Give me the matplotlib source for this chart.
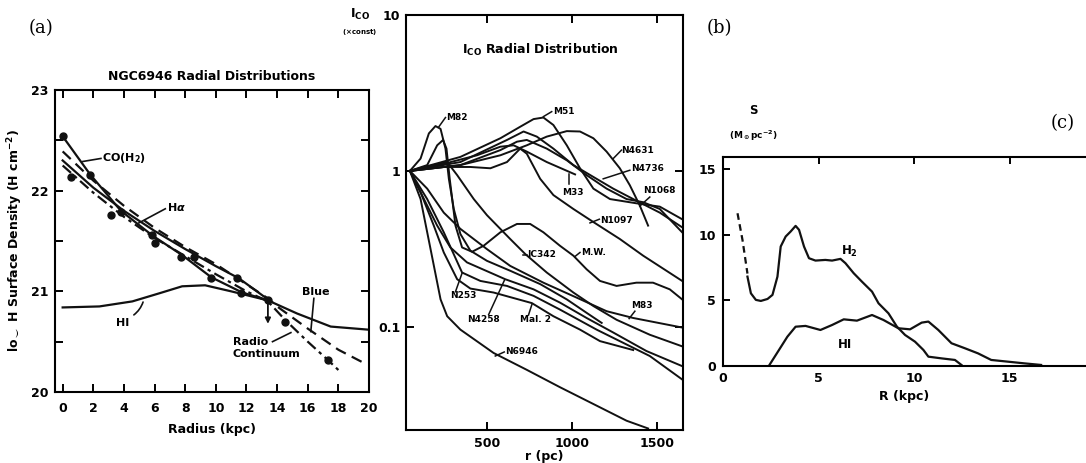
import matplotlib
matplotlib.use('Agg')
import matplotlib.pyplot as plt
from matplotlib.ticker import MultipleLocator, FixedLocator, NullLocator

plt.rcParams['font.family'] = ['DejaVu Sans']
plt.rcParams['font.weight'] = 'bold'

# ---- panel (a): NGC6946 radial distributions (log surface density vs radius, kpc)
co_r = [0, 1.8, 3.8, 5.9, 7.8, 9.7, 11.7, 13.4]
co_v = [22.54, 22.16, 21.80, 21.55, 21.36, 21.14, 20.99, 20.91]
ha_r = [0, 2, 4, 6, 8, 10, 11.5, 13.4]
ha_v = [22.30, 22.03, 21.80, 21.60, 21.42, 21.25, 21.13, 20.92]
blue_r = [0, 2, 4, 6, 8, 10, 12, 13.4, 14, 16, 18, 19.9]
blue_v = [22.39, 22.10, 21.85, 21.63, 21.44, 21.27, 21.07, 20.93, 20.85, 20.63, 20.42, 20.27]
radio_r = [0, 2, 4, 6, 8, 10, 12, 13.4, 14.5, 16, 17.3, 18.2]
radio_v = [22.25, 21.98, 21.74, 21.53, 21.35, 21.17, 21.00, 20.90, 20.72, 20.50, 20.32, 20.19]
hi_r = [0, 2.4, 4.55, 6.3, 7.8, 9.3, 11.0, 13.4, 15.3, 17.5, 19.9]
hi_v = [20.84, 20.85, 20.90, 20.98, 21.05, 21.06, 21.00, 20.91, 20.78, 20.65, 20.62]
pts_r = [0, 0.56, 1.8, 3.15, 3.8, 5.85, 6.0, 7.75, 8.6, 9.7, 11.35, 11.65, 13.4, 14.5, 17.3]
pts_v = [22.54, 22.14, 22.16, 21.76, 21.79, 21.56, 21.48, 21.34, 21.34, 21.13, 21.13, 20.98,
         20.91, 20.70, 20.32]

# ---- panel (b): I_CO radial distribution (r in pc)
icoR = {
    'M51': [43, 341, 577, 694, 773, 831, 890, 969, 1047, 1126, 1224, 1380, 1518, 1650],
    'N4631': [43, 341, 577, 733, 851, 969, 1047, 1126, 1204, 1282, 1341, 1400, 1449],
    'N4736': [43, 341, 616, 714, 792, 890, 1008, 1126, 1243, 1361, 1518, 1650],
    'N1068': [43, 341, 577, 675, 733, 851, 969, 1086, 1204, 1322, 1420, 1518, 1650],
    'M33': [43, 243, 439, 577, 655, 733, 851, 1018],
    'N1097': [43, 243, 400, 518, 616, 694, 733, 812, 890, 1008, 1126, 1282, 1420, 1650],
    'M82': [43, 106, 155, 194, 224, 253, 273, 302, 341, 400, 498, 635, 812, 969, 1086, 1175],
    'M.W.': [43, 145, 204, 239, 259, 278, 312, 351, 410, 478, 577, 675, 753, 831, 929, 1008,
             1086, 1165, 1263, 1380, 1478, 1577, 1650],
    'IC342': [43, 184, 263, 322, 420, 498, 635, 724, 851, 1008, 1126, 1263, 1459, 1650],
    'M83': [43, 145, 243, 341, 498, 635, 831, 1027, 1204, 1361, 1650],
    'N4258': [43, 126, 204, 282, 380, 537, 606, 773, 929, 1086, 1243, 1439, 1650],
    'N253': [43, 145, 243, 351, 459, 616, 773, 929, 1145, 1459, 1650],
    'Mal. 2': [43, 106, 184, 243, 322, 400, 537, 763, 890, 1047, 1165, 1361],
    'N6946': [43, 106, 165, 224, 263, 341, 537, 733, 929, 1126, 1322, 1449],
}
icoV = {
    'M51': [1.0, 1.23, 1.62, 1.92, 2.15, 2.20, 1.97, 1.46, 1.04, 0.77, 0.66, 0.62, 0.59, 0.49],
    'N4631': [1.0, 1.09, 1.26, 1.46, 1.66, 1.80, 1.79, 1.62, 1.33, 1.04, 0.81, 0.60, 0.446],
    'N4736': [1.0, 1.14, 1.58, 1.79, 1.66, 1.39, 1.09, 0.915, 0.77, 0.66, 0.54, 0.435],
    'N1068': [1.0, 1.09, 1.36, 1.54, 1.58, 1.39, 1.17, 0.94, 0.77, 0.66, 0.63, 0.57, 0.404],
    'M33': [1.0, 1.11, 1.26, 1.43, 1.46, 1.33, 1.14, 0.95],
    'N1097': [1.0, 1.06, 1.06, 1.04, 1.14, 1.39, 1.29, 0.89, 0.70, 0.57, 0.47, 0.366, 0.286,
              0.197],
    'M82': [1.0, 1.20, 1.74, 1.94, 1.86, 1.39, 0.89, 0.57, 0.394, 0.308, 0.265, 0.229, 0.188,
            0.150, 0.123, 0.106],
    'M.W.': [1.0, 1.09, 1.46, 1.58, 1.39, 0.89, 0.446, 0.323, 0.303, 0.331, 0.404, 0.457, 0.457,
             0.404, 0.331, 0.286, 0.234, 0.197, 0.183, 0.192, 0.192, 0.174, 0.150],
    'IC342': [1.0, 1.09, 1.14, 0.94, 0.66, 0.52, 0.366, 0.293, 0.223, 0.166, 0.136, 0.111, 0.089,
              0.075],
    'M83': [1.0, 0.77, 0.54, 0.425, 0.315, 0.246, 0.192, 0.154, 0.126, 0.114, 0.099],
    'N4258': [1.0, 0.66, 0.446, 0.323, 0.259, 0.218, 0.202, 0.174, 0.143, 0.114, 0.092, 0.070,
              0.056],
    'N253': [1.0, 0.66, 0.404, 0.223, 0.197, 0.183, 0.158, 0.129, 0.096, 0.065, 0.046],
    'Mal. 2': [1.0, 0.73, 0.446, 0.30, 0.202, 0.176, 0.166, 0.142, 0.117, 0.096, 0.081, 0.071],
    'N6946': [1.0, 0.66, 0.315, 0.150, 0.117, 0.096, 0.068, 0.053, 0.041, 0.032, 0.025, 0.0223],
}

# ---- panel (c): surface density S (Msun pc^-2) vs R (kpc)
h2d_r = [0.76, 1.02, 1.28]
h2d_v = [11.62, 9.59, 7.03]
h2_r = [1.28, 1.46, 1.72, 1.98, 2.33, 2.59, 2.85, 3.02, 3.28, 3.54, 3.80, 3.98, 4.24, 4.50,
        4.84, 5.36, 5.71, 6.15, 6.41, 6.84, 7.27, 7.80, 8.14, 8.66, 9.10, 9.53, 10.05, 10.49,
        10.75, 11.44, 12.14, 12.48]
h2_v = [6.80, 5.53, 5.03, 4.95, 5.10, 5.41, 6.80, 9.09, 9.85, 10.23, 10.66, 10.36, 9.09, 8.20,
        8.02, 8.07, 8.02, 8.15, 7.82, 7.06, 6.42, 5.66, 4.77, 4.01, 3.00, 2.36, 1.85, 1.22,
        0.71, 0.58, 0.46, 0.08]
hic_r = [2.41, 2.93, 3.37, 3.80, 4.32, 5.10, 5.71, 6.32, 7.01, 7.80, 8.40, 9.18, 9.79, 10.40,
         10.75, 11.27, 11.96, 12.66, 13.35, 14.04, 14.91, 15.78, 16.65]
hic_v = [0.03, 1.22, 2.23, 2.99, 3.05, 2.74, 3.12, 3.55, 3.45, 3.88, 3.50, 2.87, 2.79, 3.30,
         3.38, 2.74, 1.73, 1.35, 0.96, 0.46, 0.33, 0.20, 0.08]

K = '#111111'
LW = 1.6
W, H = 1086, 463


def box(l, t, r, b):
    return [l / W, 1 - b / H, (r - l) / W, (b - t) / H]


fig = plt.figure(figsize=(10.86, 4.63), dpi=100)

# ================= (a)
axa = fig.add_axes(box(55, 90, 369, 392))
axa.plot(co_r, co_v, color=K, lw=LW)
axa.plot(ha_r, ha_v, color=K, lw=LW)
axa.plot(blue_r, blue_v, color=K, lw=LW, ls=(0, (5, 3)))
axa.plot(radio_r, radio_v, color=K, lw=LW, ls=(0, (5, 2, 1.5, 2)))
axa.plot(hi_r, hi_v, color=K, lw=LW)
axa.plot(pts_r, pts_v, 'o', color=K, ms=5)
axa.annotate('', xy=(13.4, 20.65), xytext=(13.4, 20.9),
             arrowprops=dict(arrowstyle='-|>', color=K, lw=1.3, mutation_scale=8))
axa.set_xlim(-0.5, 20.0)
axa.set_ylim(20, 23)
axa.xaxis.set_major_locator(MultipleLocator(2))
axa.yaxis.set_major_locator(MultipleLocator(1))
axa.yaxis.set_minor_locator(MultipleLocator(0.5))
axa.tick_params(which='both', direction='in', top=True, right=True, labelsize=9, width=1.4,
                length=6)
axa.tick_params(axis='x', pad=7)
axa.tick_params(axis='y', pad=5)
for s in axa.spines.values():
    s.set_linewidth(1.5)
axa.set_title('NGC6946 Radial Distributions', fontsize=9, fontweight='bold', pad=7)
axa.set_xlabel('Radius (kpc)', fontsize=9, fontweight='bold', labelpad=6)
axa.set_ylabel(r'lo$_{\mathbf{\smile}}$ H Surface Density (H cm$^{-2}$)', fontsize=9,
               fontweight='bold', labelpad=4)
axa.text(2.6, 22.32, r'CO(H$_2$)', fontsize=8, va='center')
axa.plot([1.32, 2.5], [22.29, 22.32], color=K, lw=1.2)
axa.text(6.8, 21.84, r'H$\alpha$', fontsize=8, va='center')
axa.plot([4.98, 6.7], [21.68, 21.82], color=K, lw=1.2)
axa.text(3.5, 20.69, 'HI', fontsize=8, va='center')
axa.annotate('', xy=(5.3, 20.92), xytext=(4.5, 20.75),
             arrowprops=dict(arrowstyle='-', color=K, lw=1.2, connectionstyle='arc3,rad=0.2'))
axa.text(16.55, 20.99, 'Blue', fontsize=8, ha='center', va='center')
axa.plot([16.4, 16.2], [20.93, 20.60], color=K, lw=1.2)
axa.text(11.1, 20.44, 'Radio\nContinuum', fontsize=8, va='center', linespacing=1.2)
axa.plot([13.7, 14.9], [20.50, 20.59], color=K, lw=1.2)

# ================= (b)
axb = fig.add_axes(box(406, 15, 683, 430))
for name in icoR:
    axb.plot(icoR[name], icoV[name], color=K, lw=1.4)
axb.set_yscale('log')
axb.set_xlim(20, 1655)
axb.set_ylim(0.0218, 10)
axb.xaxis.set_major_locator(FixedLocator([500, 1000, 1500]))
axb.yaxis.set_major_locator(FixedLocator([0.1, 1, 10]))
axb.yaxis.set_minor_locator(NullLocator())
axb.yaxis.set_major_formatter(plt.FixedFormatter(['0.1', '1', '10']))
axb.tick_params(axis='x', direction='in', top=True, length=6, width=1.4, labelsize=9, pad=5)
axb.tick_params(axis='y', direction='in', right=True, length=6, width=1.4, labelsize=9, pad=4)
for s in axb.spines.values():
    s.set_linewidth(1.5)
axb.set_xlabel('r (pc)', fontsize=9, fontweight='bold', labelpad=0)
axb.text(0.486, 0.916, r'I$_{\mathbf{CO}}$ Radial Distribution', transform=axb.transAxes,
         fontsize=9, ha='center', va='center')
labs = [
    ('M82', 259, 2.20, (214, 1.92), (253, 2.20)),
    ('M51', 886, 2.40, (831, 2.23), (880, 2.40)),
    ('N4631', 1292, 1.36, (1243, 1.20), (1292, 1.36)),
    ('N4736', 1351, 1.035, (1184, 0.89), (1341, 1.01)),
    ('M33', 939, 0.73, (984, 0.95), (984, 0.82)),
    ('N1068', 1420, 0.75, (1459, 0.68), (1400, 0.595)),
    ('N1097', 1165, 0.48, (1106, 0.464), (1161, 0.49)),
    ('IC342', 733, 0.289, (712, 0.289), (733, 0.289)),
    ('M.W.', 1051, 0.30, (1018, 0.283), (1047, 0.30)),
    ('N253', 282, 0.158, (312, 0.168), (351, 0.221)),
    ('N4258', 380, 0.111, (508, 0.12), (602, 0.2)),
    ('Mal. 2', 694, 0.111, (743, 0.119), (763, 0.139)),
    ('M83', 1351, 0.137, (1337, 0.113), (1371, 0.126)),
    ('N6946', 606, 0.069, (547, 0.065), (600, 0.069)),
]
for t, lx, ly, p0, p1 in labs:
    axb.text(lx, ly, t, fontsize=6.5, va='center')
    axb.plot([p0[0], p1[0]], [p0[1], p1[1]], color=K, lw=1.1)

# ================= (c)
axc = fig.add_axes(box(723, 157, 1086, 366))
axc.plot(h2d_r, h2d_v, color=K, lw=LW, ls=(0, (3, 2)))
axc.plot(h2_r, h2_v, color=K, lw=LW)
axc.plot(hic_r, hic_v, color=K, lw=LW)
axc.set_xlim(0, 19)
axc.set_ylim(0, 15.9)
axc.spines['right'].set_visible(False)
for s in axc.spines.values():
    s.set_linewidth(1.5)
axc.xaxis.set_major_locator(FixedLocator([0, 5, 10, 15]))
axc.yaxis.set_major_locator(FixedLocator([0, 5, 10, 15]))
axc.tick_params(axis='x', direction='in', top=True, bottom=False, length=5, width=1.4,
                labelsize=9, pad=4)
axc.tick_params(axis='y', direction='in', length=5, width=1.4, labelsize=9, pad=5)
axc.set_xlabel('R (kpc)', fontsize=9, fontweight='bold', labelpad=4)
axc.text(6.2, 8.7, r'H$_\mathbf{2}$', fontsize=8.5, va='center')
axc.text(6.0, 1.6, 'HI', fontsize=8.5, va='center')

# ================= figure-level text
fig.text(41 / W, 1 - 28 / H, '(a)', family='DejaVu Serif', fontsize=13, weight='normal',
         ha='center', va='center')
fig.text(719 / W, 1 - 28 / H, '(b)', family='DejaVu Serif', fontsize=13, weight='normal',
         ha='center', va='center')
fig.text(1063 / W, 1 - 123 / H, '(c)', family='DejaVu Serif', fontsize=13, weight='normal',
         ha='center', va='center')
fig.text(360 / W, 1 - 14 / H, r'I$_{\mathbf{CO}}$', fontsize=9, ha='center', va='center')
fig.text(360 / W, 1 - 32 / H, r'($\times$const)', fontsize=5, ha='center', va='center')
fig.text(753 / W, 1 - 110 / H, 'S', fontsize=8.5, ha='center', va='center')
fig.text(753 / W, 1 - 136 / H, r'(M$_\odot$pc$^{-2}$)', fontsize=6.5, ha='center',
         va='center')

fig.savefig('out.png', dpi=100)
